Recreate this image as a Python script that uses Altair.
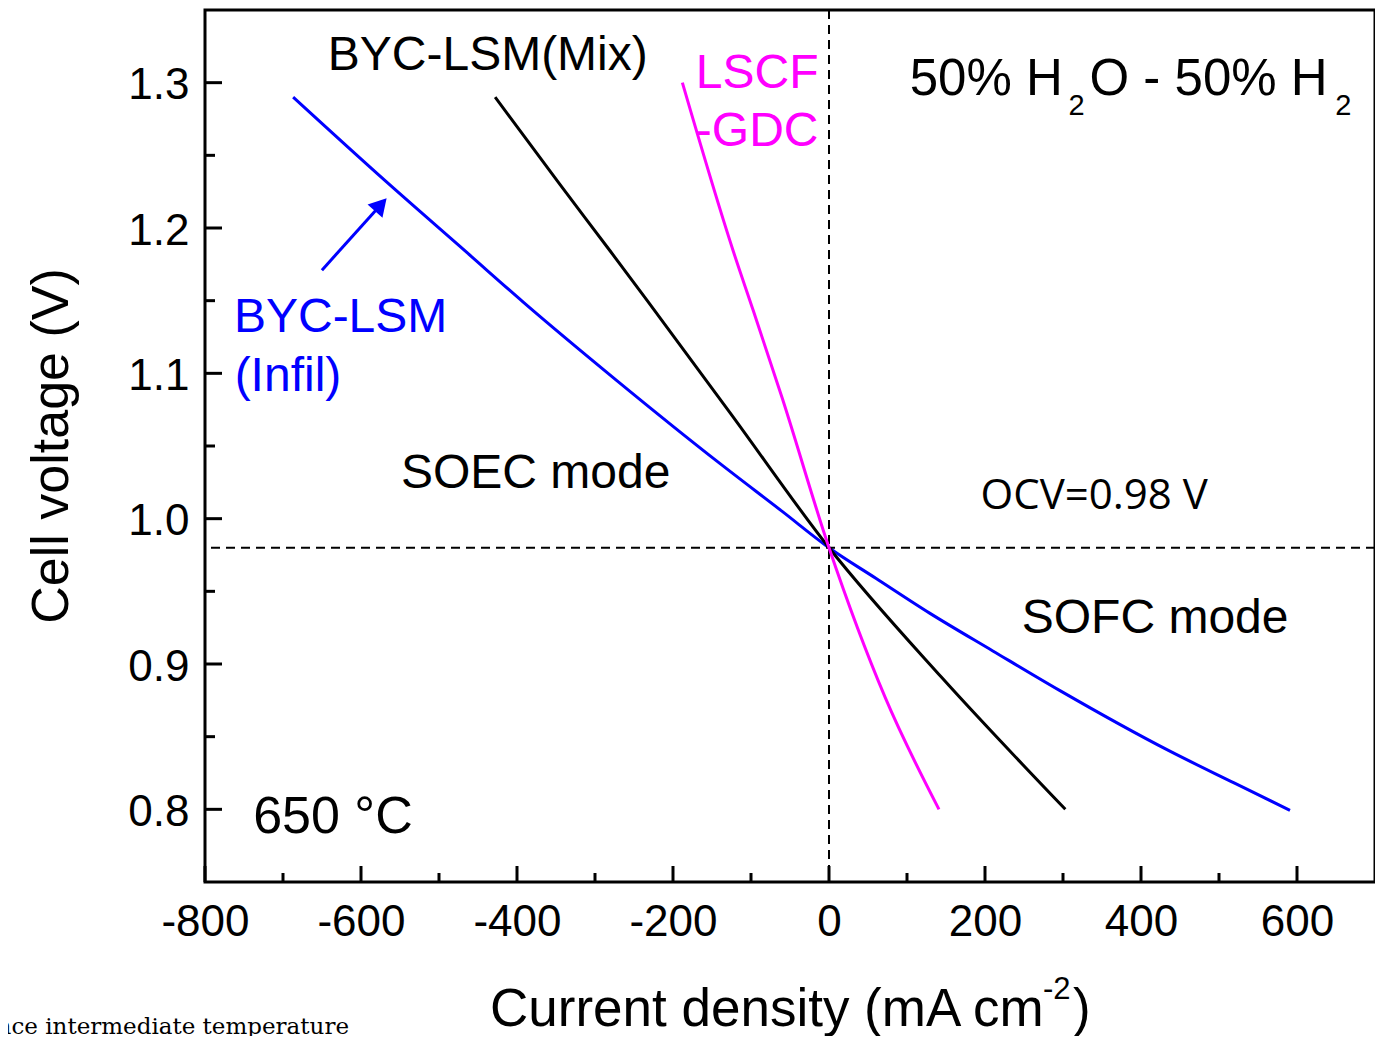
import altair as alt
import pandas as pd

# ---------------- data ----------------
x_ticks = [-800, -600, -400, -200, 0, 200, 400, 600]
x_minor = [-700, -500, -300, -100, 100, 300, 500]
y_ticks = [0.8, 0.9, 1.0, 1.1, 1.2, 1.3]
y_minor = [0.85, 0.95, 1.05, 1.15, 1.25]
ocv = [0.98]
zero_line = [0]

# BYC-LSM (Infil) - blue
blue_j = [-687, -568, -464, -392, -272, -140, -60, 0, 60, 129, 210, 295, 437, 520, 591]
blue_v = [1.290, 1.232, 1.183, 1.149, 1.095, 1.038, 1.005, 0.980, 0.959, 0.935, 0.909,
          0.882, 0.840, 0.818, 0.7993]
# BYC-LSM (Mix) - black
black_j = [-428, -345, -281, -233, -127, 0, 144, 303]
black_v = [1.290, 1.230, 1.1845, 1.150, 1.073, 0.980, 0.891, 0.800]
# LSCF-GDC - magenta
mag_j = [-188, -123, -97, -60, 0, 72, 141]
mag_v = [1.300, 1.1845, 1.143, 1.083, 0.980, 0.877, 0.800]

# ---------------- layout ----------------
W, H = 1170, 872
FONT = "Liberation Sans"
xs = alt.Scale(domain=[-800, 700], nice=False, zero=False)
ys = alt.Scale(domain=[0.75, 1.35], nice=False, zero=False)

x_axis = alt.Axis(values=x_ticks, title=None, domain=False, ticks=False, grid=False,
                  labelFont=FONT, labelFontSize=44, labelColor="black", labelPadding=18,
                  labelFlush=False, labelOverlap=False,
                  labelExpr="datum.value < 0 ? '-' + abs(datum.value) : '' + datum.value")
y_axis = alt.Axis(values=y_ticks, format=".1f", title=None, domain=False, ticks=False,
                  grid=False, labelFont=FONT, labelFontSize=44, labelColor="black",
                  labelPadding=16, labelBaseline="alphabetic", labelOffset=16,
                  labelFlush=False, labelOverlap=False)


def X(field="x"):
    return alt.X(f"{field}:Q", scale=xs, axis=x_axis)


def Y(field="y"):
    return alt.Y(f"{field}:Q", scale=ys, axis=y_axis)


def curve(j, v, color):
    df = pd.DataFrame({"x": j, "y": v})
    return alt.Chart(df).mark_line(color=color, strokeWidth=3, interpolate="monotone").encode(
        x=X(), y=Y())


def txt(s, x, y, size, color="black", align="center", font=FONT):
    df = pd.DataFrame({"x": [x], "y": [y], "t": [s]})
    return alt.Chart(df).mark_text(font=font, fontSize=size, color=color, align=align,
                                   baseline="alphabetic").encode(x=X(), y=Y(), text="t:N")


def ptxt(s, px, py, size, align="left", angle=0, font=FONT, color="black"):
    df = pd.DataFrame({"t": [s]})
    return alt.Chart(df).mark_text(font=font, fontSize=size, color=color, align=align,
                                   baseline="alphabetic", angle=angle).encode(
        x=alt.value(px), y=alt.value(py), text="t:N")


# dashed reference lines
vline = alt.Chart(pd.DataFrame({"x": zero_line})).mark_rule(
    color="black", strokeWidth=2, strokeDash=[9, 6]).encode(x=X())
hline = alt.Chart(pd.DataFrame({"y": ocv})).mark_rule(
    color="black", strokeWidth=2, strokeDash=[9, 6]).encode(y=Y())

# inward ticks
xt_major = alt.Chart(pd.DataFrame({"x": x_ticks})).mark_rule(color="black", strokeWidth=3).encode(
    x=X(), y=alt.value(H), y2=alt.value(H - 16))
xt_minor = alt.Chart(pd.DataFrame({"x": x_minor})).mark_rule(color="black", strokeWidth=3).encode(
    x=X(), y=alt.value(H), y2=alt.value(H - 9))
yt_major = alt.Chart(pd.DataFrame({"y": y_ticks})).mark_rule(color="black", strokeWidth=3).encode(
    y=Y(), x=alt.value(0), x2=alt.value(17))
yt_minor = alt.Chart(pd.DataFrame({"y": y_minor})).mark_rule(color="black", strokeWidth=3).encode(
    y=Y(), x=alt.value(0), x2=alt.value(10))

# arrow pointing to the blue curve
arrow_shaft = alt.Chart(pd.DataFrame({"x": [-650.1], "y": [1.171], "x2": [-574.6], "y2": [1.216]})).mark_rule(
    color="#0000FF", strokeWidth=3).encode(x=X(), y=Y(), x2="x2:Q", y2="y2:Q")
arrow_head = alt.Chart(pd.DataFrame({"x": [-574.6], "y": [1.216]})).mark_point(
    shape="triangle-up", filled=True, color="#0000FF", size=400, angle=42, opacity=1).encode(x=X(), y=Y())

layers = [
    curve(blue_j, blue_v, "#0000FF"),
    vline, hline,
    curve(black_j, black_v, "black"),
    curve(mag_j, mag_v, "#FF00FF"),
    xt_major, xt_minor, yt_major, yt_minor,
    arrow_shaft, arrow_head,
    txt("BYC-LSM(Mix)", -437.5, 1.3087, 48),
    txt("LSCF", -13.5, 1.2963, 48, color="#FF00FF", align="right"),
    txt("-GDC", -13.5, 1.2564, 48, color="#FF00FF", align="right"),
    txt("50% H", 103.5, 1.2915, 51, align="left"),
    txt("2", 307.0, 1.2777, 29, align="left"),
    txt("O - 50% H", 334.0, 1.2915, 51, align="left"),
    txt("2", 649.0, 1.2777, 29, align="left"),
    txt("BYC-LSM", -762.9, 1.1284, 48, color="#0000FF", align="left"),
    txt("(Infil)", -762.0, 1.0878, 48, color="#0000FF", align="left"),
    txt("SOEC mode", -376.0, 1.0210, 48),
    txt("OCV=0.98 V", 340.0, 1.0066, 42, font="Open Sans"),
    txt("SOFC mode", 418.1, 0.9212, 48),
    txt("650 °C", -636.0, 0.7836, 52),
    # axis titles
    ptxt("Cell voltage (V)", -137, 436, 52, align="center", angle=270),
    ptxt("Current density (mA cm", 285, 1016, 53, align="left"),
    ptxt("-2", 838, 989, 31, align="left"),
    ptxt(")", 868, 1016, 53, align="left"),
    # cropped caption fragment at the bottom-left of the source image
    ptxt("nce intermediate temperature", 144, 1024, 23, align="right", font="DejaVu Serif"),
]

chart = alt.layer(*layers).properties(
    width=W, height=H,
    background="white",
    autosize=alt.AutoSizeParams(type="none"),
    padding={"left": 197, "top": 2, "right": 0, "bottom": 154},
).configure_view(stroke="black", strokeWidth=3)

chart.save("out.html", embed_options={"renderer": "svg", "actions": False})
